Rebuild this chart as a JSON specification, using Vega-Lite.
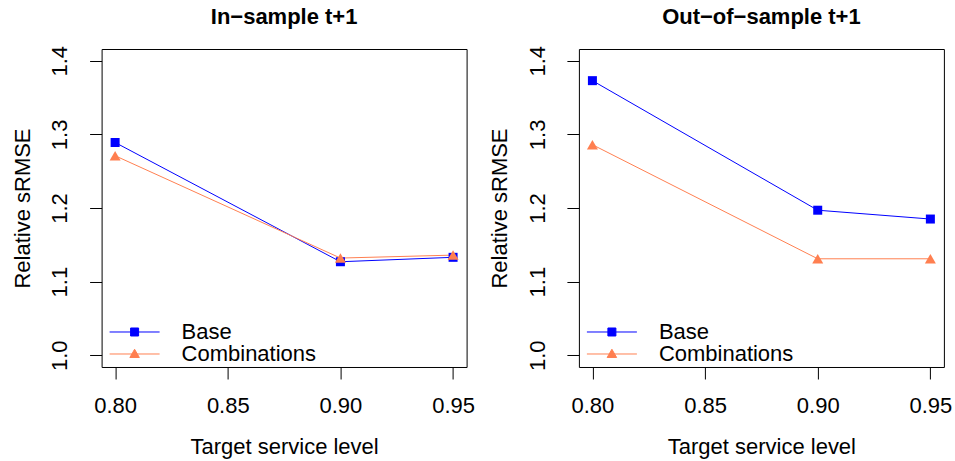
{
  "$schema": "https://vega.github.io/schema/vega-lite/v6.json",
  "background": "white",
  "padding": {"left": 10.6, "top": 5, "right": 5, "bottom": 5},
  "spacing": 12.3,
  "datasets": {
    "d": [
      {"panel": "In", "level": 0.80, "series": "Base", "value": 1.289},
      {"panel": "In", "level": 0.90, "series": "Base", "value": 1.127},
      {"panel": "In", "level": 0.95, "series": "Base", "value": 1.133},
      {"panel": "In", "level": 0.80, "series": "Combinations", "value": 1.271},
      {"panel": "In", "level": 0.90, "series": "Combinations", "value": 1.132},
      {"panel": "In", "level": 0.95, "series": "Combinations", "value": 1.136},
      {"panel": "Out", "level": 0.80, "series": "Base", "value": 1.373},
      {"panel": "Out", "level": 0.90, "series": "Base", "value": 1.197},
      {"panel": "Out", "level": 0.95, "series": "Base", "value": 1.185},
      {"panel": "Out", "level": 0.80, "series": "Combinations", "value": 1.286},
      {"panel": "Out", "level": 0.90, "series": "Combinations", "value": 1.131},
      {"panel": "Out", "level": 0.95, "series": "Combinations", "value": 1.131}
    ]
  },
  "resolve": {
    "scale": {"color": "independent"},
    "legend": {"color": "independent"}
  },
  "hconcat": [
    {
      "title": {"text": "In−sample t+1"},
      "width": 365,
      "height": 318,
      "data": {"name": "d"},
      "transform": [{"filter": "datum.panel === 'In'"}],
      "encoding": {
        "x": {"field": "level", "type": "quantitative", "title": "Target service level",
              "scale": {"domain": [0.794, 0.956], "nice": false, "zero": false},
              "axis": {"values": [0.8, 0.85, 0.9, 0.95], "format": ".2f"}},
        "y": {"field": "value", "type": "quantitative", "title": "Relative sRMSE",
              "scale": {"domain": [0.984, 1.416], "nice": false, "zero": false},
              "axis": {"values": [1.0, 1.1, 1.2, 1.3, 1.4], "format": ".1f"}},
        "color": {"field": "series", "type": "nominal",
                  "scale": {"domain": ["Base", "Combinations"], "range": ["#0000FF", "#FF7F50"]},
                  "legend": {
                    "orient": "none", "legendX": 22, "legendY": 272, "title": null,
                    "labelOffset": 36, "rowPadding": 0, "padding": 0, "labelFontSize": 22,
                    "symbolType": {"expr": "datum.value === 'Base' ? 'M-5,0H5M-0.8,-0.8H0.8V0.8H-0.8Z' : 'M-5,0H5M0,-0.95L0.95,0.7H-0.95Z'"},
                    "symbolStrokeColor": {"expr": "datum.value === 'Base' ? '#0000FF' : '#FF7F50'"},
                    "symbolFillColor": {"expr": "datum.value === 'Base' ? '#0000FF' : '#FF7F50'"},
                    "symbolStrokeWidth": 1,
                    "symbolSize": 100,
                    "symbolOpacity": 1
                  }}
      },
      "layer": [
        {"mark": {"type": "line", "strokeWidth": 1}},
        {"transform": [{"filter": "datum.series === 'Base'"}],
         "mark": {"type": "point", "shape": "square", "size": 81, "filled": true, "opacity": 1}},
        {"transform": [{"filter": "datum.series === 'Combinations'"}],
         "mark": {"type": "point", "shape": "triangle-up", "size": 121, "filled": true, "opacity": 1}}
      ]
    },
    {
      "title": {"text": "Out−of−sample t+1"},
      "width": 365,
      "height": 318,
      "data": {"name": "d"},
      "transform": [{"filter": "datum.panel === 'Out'"}],
      "encoding": {
        "x": {"field": "level", "type": "quantitative", "title": "Target service level",
              "scale": {"domain": [0.794, 0.956], "nice": false, "zero": false},
              "axis": {"values": [0.8, 0.85, 0.9, 0.95], "format": ".2f"}},
        "y": {"field": "value", "type": "quantitative", "title": "Relative sRMSE",
              "scale": {"domain": [0.984, 1.416], "nice": false, "zero": false},
              "axis": {"values": [1.0, 1.1, 1.2, 1.3, 1.4], "format": ".1f"}},
        "color": {"field": "series", "type": "nominal",
                  "scale": {"domain": ["Base", "Combinations"], "range": ["#0000FF", "#FF7F50"]},
                  "legend": {
                    "orient": "none", "legendX": 22, "legendY": 272, "title": null,
                    "labelOffset": 36, "rowPadding": 0, "padding": 0, "labelFontSize": 22,
                    "symbolType": {"expr": "datum.value === 'Base' ? 'M-5,0H5M-0.8,-0.8H0.8V0.8H-0.8Z' : 'M-5,0H5M0,-0.95L0.95,0.7H-0.95Z'"},
                    "symbolStrokeColor": {"expr": "datum.value === 'Base' ? '#0000FF' : '#FF7F50'"},
                    "symbolFillColor": {"expr": "datum.value === 'Base' ? '#0000FF' : '#FF7F50'"},
                    "symbolStrokeWidth": 1,
                    "symbolSize": 100,
                    "symbolOpacity": 1
                  }}
      },
      "layer": [
        {"mark": {"type": "line", "strokeWidth": 1}},
        {"transform": [{"filter": "datum.series === 'Base'"}],
         "mark": {"type": "point", "shape": "square", "size": 81, "filled": true, "opacity": 1}},
        {"transform": [{"filter": "datum.series === 'Combinations'"}],
         "mark": {"type": "point", "shape": "triangle-up", "size": 121, "filled": true, "opacity": 1}}
      ]
    }
  ],
  "config": {
    "font": "Liberation Sans",
    "view": {"stroke": "black", "strokeWidth": 1},
    "title": {"fontSize": 22, "fontWeight": "bold", "color": "black", "baseline": "alphabetic", "offset": 16.7, "anchor": "middle"},
    "axis": {
      "grid": false, "domain": false, "ticks": true, "tickColor": "black", "tickSize": 12, "tickWidth": 1,
      "labelFontSize": 22, "labelColor": "black", "titleFontSize": 22, "titleFontWeight": "normal", "titleColor": "black",
      "labelFlush": false, "labelOverlap": false
    },
    "axisX": {"labelBaseline": "alphabetic", "labelPadding": 33.7, "titleBaseline": "alphabetic", "titleY": 86.7},
    "axisY": {"labelAngle": -90, "labelAlign": "center", "labelBaseline": "alphabetic", "labelPadding": 22.7,
              "titleAngle": -90, "titleBaseline": "alphabetic", "titleX": -72, "titleY": 159, "titleAlign": "center"},
    "legend": {"labelColor": "black", "labelFont": "Liberation Sans"}
  }
}
